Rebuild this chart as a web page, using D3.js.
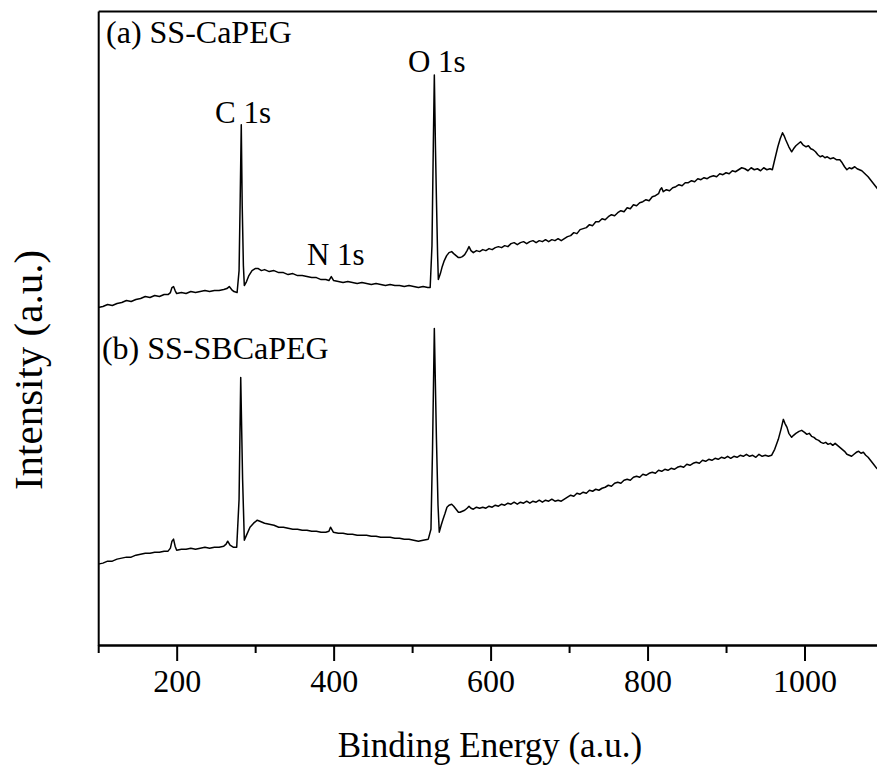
<!DOCTYPE html>
<html>
<head>
<meta charset="utf-8">
<script src="https://cdn.jsdelivr.net/npm/d3@7"></script>
<style>
  body { margin: 0; background: #fff; }
  svg text { font-family: "Liberation Serif", "DejaVu Serif", serif; fill: #000; }
</style>
</head>
<body>
<div id="chart"></div>
<script>
let svgWidth = 877;
let svgHeight = 765;

// x range of the frame, right side is cropped in the original
let margin = { top: 11, left: 98.2, bottom: 120 };
let plotWidth = 784.8;
let plotHeight = svgHeight - margin.top - margin.bottom;

// tick values
const majorTicks = [200, 400, 600, 800, 1000];
const minorTicks = [100, 300, 500, 700, 900, 1100];

// (a) SS-CaPEG  [binding energy, intensity]
const spectrumA = [[100,338],[106,339],[112,341],[118,340],[124,342],[130,343],[136,345],[142,344],[148,346],[154,347],[160,349],[166,348],[172,350],[178,349],[184,351],[189,351],[192,353],[194,358],[196,359],[198,355],[200,352],[206,353],[212,352],[218,354],[224,353],[230,354],[236,355],[242,354],[248,355],[254,355],[260,356],[264,357],[267,359],[270,356],[273,354],[277,353],[279.5,375],[281,450],[282.3,521],[283.5,440],[285,380],[286.2,360],[289,364],[292,370],[296,375],[300,377],[304,377],[308,375],[312,376],[318,374],[324,375],[330,373],[336,373],[342,371],[348,372],[354,370],[360,370],[366,369],[372,368],[378,368],[384,366],[390,366],[394,365],[397,369],[400,365],[406,364],[412,363],[418,364],[424,363],[430,362],[436,363],[442,362],[448,361],[454,362],[460,361],[466,360],[472,361],[478,360],[484,360],[490,359],[496,360],[502,359],[508,358],[514,359],[520,358],[523,358],[525.3,400],[527,500],[528.3,571],[529.7,500],[531,446],[532.5,390],[533.4,366],[536,372],[538,378],[541,385],[544,390],[547,393],[550.4,394],[553,392],[556,390],[559,388],[561,388],[564,389],[567,391],[570,395],[572.5,399],[575,395],
    [578,393],[582,395],[586,394],[590,396],[594,395],[598,397],[602,396],[606,398],[610,399],[614,398],[618,400],[622,399],[626,402],[630,403],[634,401],[638,403],[642,404],[646,402],[650,404],[654,405],[658,403],[662,405],[666,404],[670,406],[674,404],[678,406],[682,405],[686,407],[690,405],[694,407],[698,409],[702,410],[706,413],[710,412],[714,416],[718,417],[722,418],[726,421],[730,420],[734,424],[738,424],[742,427],[746,426],[750,429],[754,431],[758,430],[762,433],[766,435],[770,434],[774,438],[778,437],[782,441],[786,440],[790,443],[794,444],[798,446],[802,445],[806,449],[810,450],[814,452],[816,456],[818,458],[820,454],[824,456],[828,455],[832,458],[836,459],[840,461],[844,460],[848,463],[852,463],[856,465],[860,464],[864,467],[868,466],[872,468],[876,467],[880,469],[884,470],[888,469],[892,472],[896,471],[900,473],[904,472],[908,475],[912,474],[916,476],[920,478],[924,477],[928,475],[932,478],[936,476],[940,477],[944,475],[948,478],[952,476],[956,477],[959,476],
    [962,486],[966,499],[969,507],[972,513],[974,510],[976,506],[980,499],[983.6,494],[986,497],[989,500],[992,502],[995,504],[998,501],[1002,499],[1005,500],[1008,497],[1011,496],[1014,494],[1017,491],[1020,489],[1023,490],[1026,488],[1029,489],[1033,487],[1037,488],[1041,486],[1045,486],[1048,483],[1051,479],[1054,476],[1057,478],[1060,477],[1064,479],[1067,477],[1070,476],[1073,475],[1077,472],[1081,469],[1084,466],[1087,463],[1090,460],[1093,457],[1096,454],[1100,451]];

// (b) SS-SBCaPEG
const spectrumB = [[100,81],[106,82],[112,84],[118,84],[124,86],[130,87],[136,88],[142,88],[148,90],[154,91],[160,92],[166,92],[172,93],[178,93],[184,94],[189,94],[192,97],[194,104],[196,106],[198,99],[200,95],[206,96],[212,96],[218,97],[224,96],[230,97],[236,98],[242,97],[248,98],[254,98],[260,99],[263,101],[265,104],[268,100],[272,98],[276.5,98],[279.5,146],[281.6,268],[284,166],[286.2,105],[289,110],[293.4,118],[298,122],[302.7,125],[306,124],[312,122],[318,121],[324,120],[330,118],[336,118],[342,117],[348,116],[354,116],[360,115],[366,115],[372,114],[378,114],[384,113],[390,113],[394,114],[396,118],[399.6,113],[406,112],[412,112],[418,111],[424,111],[430,110],[436,110],[442,110],[448,109],[454,109],[460,108],[466,108],[472,108],[478,107],[484,107],[490,106],[496,106],[502,105],[508,104],[514,105],[520.6,106],[524,116],[526,196],[528.3,317],[531,206],[533,140],[534.6,113],[537,120],[539.4,126],[542,132],[544.4,138],[547,140],[550.4,141],[553,139],[556,136],[559,133],[561,133],[564,134],[567,135],[570,137],[572.5,139],[575,137],
    [578,136],[582,138],[586,137],[590,138],[594,137],[598,139],[602,138],[606,140],[610,139],[614,141],[618,140],[622,142],[626,141],[630,143],[634,141],[638,143],[642,142],[646,144],[650,142],[654,144],[658,143],[662,145],[666,143],[670,145],[674,144],[678,146],[682,144],[686,145],[690,144],[694,146],[698,148],[702,150],[706,149],[710,152],[714,151],[718,153],[722,152],[726,155],[730,154],[734,156],[738,155],[742,157],[746,158],[750,160],[754,159],[758,162],[762,163],[766,162],[770,165],[774,166],[778,165],[782,168],[786,169],[790,168],[794,171],[798,170],[802,172],[806,173],[810,172],[814,175],[818,174],[822,176],[826,175],[830,177],[834,176],[838,178],[842,179],[846,178],[850,181],[854,180],[858,182],[862,183],[866,182],[870,185],[874,184],[878,186],[882,185],[886,187],[890,186],[894,188],[898,187],[902,189],[906,187],[910,189],[914,188],[918,190],[922,189],[926,191],[930,189],[934,190],[938,188],[942,191],[946,189],[950,190],[954,189],[958,190],
    [962,196],[966.6,206],[970,216],[973,226],[975,222],[977.7,218],[980,212],[983.6,208],[986,210],[989,212],[993,214],[996.4,215],[1000,213],[1003,211],[1006,212],[1009,209],[1012,208],[1015,206],[1018,205],[1021,203],[1024,202],[1027,203],[1030,201],[1033,202],[1036,200],[1039,202],[1042,200],[1045,198],[1048,196],[1051,194],[1054,191],[1057,190],[1060,189],[1063,191],[1066,193],[1069,194],[1072,192],[1075,193],[1078,190],[1081,188],[1084,185],[1088,181],[1092,177],[1096,174],[1100,172]];

// text labels placed in data units [energy, intensity]
const annotations = [
    { text: "(a) SS-CaPEG", e: 110, i: 603, size: 32 },
    { text: "(b) SS-SBCaPEG", e: 104.8, i: 286, size: 32 },
    { text: "C 1s", e: 248.8, i: 523, size: 31 },
    { text: "N 1s", e: 366, i: 381, size: 31 },
    { text: "O 1s", e: 494.7, i: 574, size: 31 }
];

let svg = d3.select("#chart")
    .append("svg")
    .attr("width", svgWidth)
    .attr("height", svgHeight);

svg.append("rect")
    .attr("width", svgWidth)
    .attr("height", svgHeight)
    .attr("fill", "#fff");

let chartGroup = svg.append("g")
    .attr("transform", `translate(${margin.left}, ${margin.top})`);

// scales
let xScale = d3.scaleLinear()
    .domain([100, 1100])
    .range([0, plotWidth]);

let yScale = d3.scaleLinear()
    .domain([0, 635])
    .range([plotHeight, 0]);

// spectra
let line = d3.line()
    .x(d => xScale(d[0]))
    .y(d => yScale(d[1]));

[spectrumA, spectrumB].forEach(s => {
    chartGroup.append("path")
        .datum(s)
        .attr("fill", "none")
        .attr("stroke", "#000")
        .attr("stroke-width", 1.5)
        .attr("stroke-linejoin", "round")
        .attr("d", line);
});

// axes
let bottomAxis = d3.axisBottom(xScale)
    .tickValues(majorTicks)
    .tickFormat(d3.format("d"))
    .tickSize(16)
    .tickSizeOuter(0)
    .tickPadding(8);

let minorAxis = d3.axisBottom(xScale)
    .tickValues(minorTicks)
    .tickSize(8)
    .tickSizeOuter(0)
    .tickFormat("");

let xAxisG = chartGroup.append("g")
    .attr("transform", `translate(0, ${plotHeight})`)
    .call(bottomAxis);

chartGroup.append("g")
    .attr("transform", `translate(0, ${plotHeight})`)
    .call(minorAxis);

chartGroup.append("g")
    .call(d3.axisLeft(yScale).tickValues([]).tickSizeOuter(0));

chartGroup.append("g")
    .call(d3.axisTop(xScale).tickValues([]).tickSizeOuter(0));

chartGroup.selectAll(".domain, .tick line")
    .attr("stroke", "#000")
    .attr("stroke-width", 2);

xAxisG.selectAll(".tick text")
    .attr("font-size", 32)
    .attr("fill", "#000");

// annotations
chartGroup.selectAll(".note")
    .data(annotations)
    .enter()
    .append("text")
    .attr("class", "note")
    .attr("x", d => xScale(d.e))
    .attr("y", d => yScale(d.i))
    .attr("font-size", d => d.size)
    .text(d => d.text);

// axis titles
svg.append("text")
    .attr("x", 490)
    .attr("y", 757)
    .attr("text-anchor", "middle")
    .attr("font-size", 35)
    .text("Binding Energy (a.u.)");

svg.append("text")
    .attr("transform", "translate(42, 370) rotate(-90)")
    .attr("text-anchor", "middle")
    .attr("font-size", 41)
    .text("Intensity (a.u.)");
</script>
</body>
</html>
